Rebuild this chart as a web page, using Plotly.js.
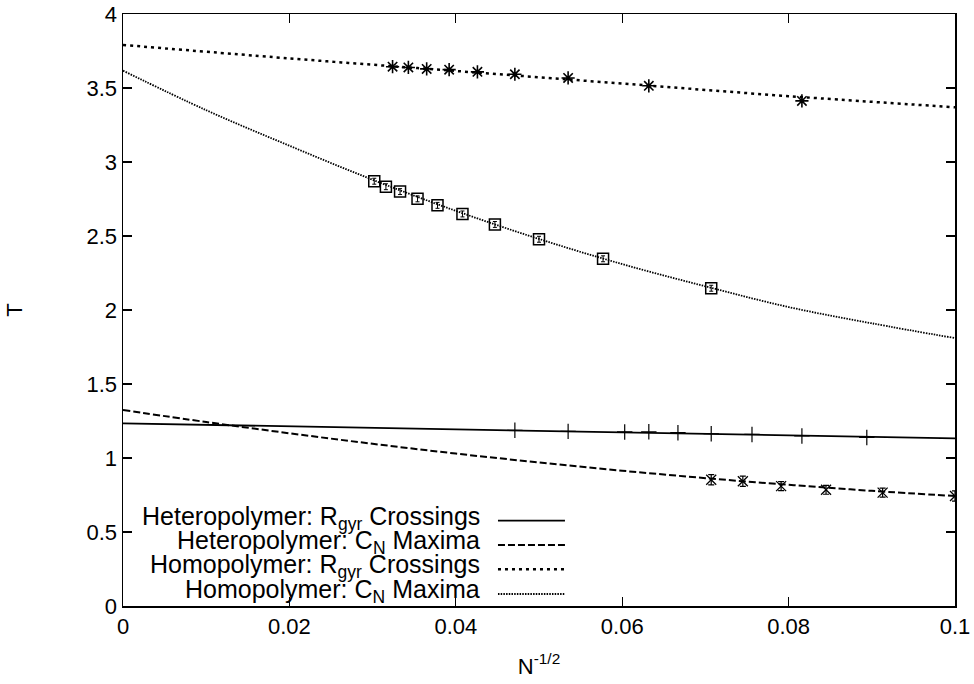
<!DOCTYPE html>
<html>
<head>
<meta charset="utf-8">
<script src="https://cdn.plot.ly/plotly-3.0.1.min.js"></script>
<style>
html,body{margin:0;padding:0;background:#fff;}
#chart{width:974px;height:684px;}
</style>
</head>
<body>
<div id="chart"></div>
<script>
// ---- data ----
// Heteropolymer: Rgyr crossings (points, '+')
var hetRgX = [0.0471, 0.0535, 0.0603, 0.0632, 0.0667, 0.0707, 0.0756, 0.0816, 0.0894];
var hetRgT = [1.187, 1.180, 1.176, 1.177, 1.171, 1.164, 1.159, 1.149, 1.139];
// fit line
var hetRgFitX = [0, 0.05, 0.1];
var hetRgFitT = [1.234, 1.184, 1.133];

// Heteropolymer: CN maxima (points, 'x' with error bars)
var hetCnX = [0.0707, 0.0745, 0.0791, 0.0845, 0.0913, 0.1];
var hetCnT = [0.853, 0.843, 0.810, 0.785, 0.766, 0.743];
var hetCnErr = [0.035, 0.035, 0.03, 0.03, 0.03, 0.035];
var hetCnFitX = [0, 0.01, 0.02, 0.03, 0.04, 0.05, 0.06, 0.07, 0.08, 0.09, 0.1];
var hetCnFitT = [1.324, 1.243, 1.167, 1.096, 1.030, 0.970, 0.914, 0.864, 0.819, 0.778, 0.743];

// Homopolymer: Rgyr crossings (points, '*')
var homRgX = [0.0324, 0.0343, 0.0365, 0.0392, 0.0426, 0.0471, 0.0535, 0.0632, 0.0816];
var homRgT = [3.644, 3.639, 3.629, 3.624, 3.609, 3.593, 3.568, 3.515, 3.413];
var homRgFitX = [0, 0.02, 0.04, 0.06, 0.08, 0.1];
var homRgFitT = [3.791, 3.700, 3.615, 3.530, 3.445, 3.370];

// Homopolymer: CN maxima (points, squares)
var homCnX = [0.0302, 0.0316, 0.0333, 0.0354, 0.0378, 0.0408, 0.0447, 0.0500, 0.0577, 0.0707];
var homCnT = [2.870, 2.833, 2.800, 2.751, 2.707, 2.649, 2.578, 2.478, 2.346, 2.147];
var homCnErr = [0.02, 0.02, 0.02, 0.02, 0.02, 0.02, 0.02, 0.02, 0.02, 0.02];
var homCnFitX = [0, 0.01, 0.02, 0.03, 0.04, 0.05, 0.06, 0.07, 0.08, 0.09, 0.1];
var homCnFitT = [3.617, 3.350, 3.110, 2.880, 2.670, 2.480, 2.310, 2.160, 2.020, 1.910, 1.810];

// legend
var legendLabels = [
  "Heteropolymer: R<sub>gyr</sub> Crossings",
  "Heteropolymer: C<sub>N</sub> Maxima",
  "Homopolymer: R<sub>gyr</sub> Crossings",
  "Homopolymer: C<sub>N</sub> Maxima"
];
var xTicks = [0, 0.02, 0.04, 0.06, 0.08, 0.1];
var xTickText = ["0", "0.02", "0.04", "0.06", "0.08", "0.1"];
var yTicks = [0, 0.5, 1, 1.5, 2, 2.5, 3, 3.5, 4];
var yTickText = ["0", "0.5", "1", "1.5", "2", "2.5", "3", "3.5", "4"];

// ---- styles ----
var FONT = "Liberation Sans, Arial, Helvetica, sans-serif";
var styles = [
  {dash: "solid", width: 1.8},
  {dash: "7px,3px", width: 2},
  {dash: "3px,4px", width: 2.5},
  {dash: "1.5px,1.2px", width: 1.8}
];

var traces = [
  {x: hetRgFitX, y: hetRgFitT, mode: "lines", line: {color: "#000", width: styles[0].width, dash: styles[0].dash}, showlegend: false, hoverinfo: "skip"},
  {x: hetRgX, y: hetRgT, mode: "markers", marker: {symbol: "cross-thin-open", size: 11, color: "#000", line: {color: "#000", width: 1.2}}, showlegend: false},
  {x: hetCnFitX, y: hetCnFitT, mode: "lines", line: {shape: "spline", color: "#000", width: styles[1].width, dash: styles[1].dash}, showlegend: false, hoverinfo: "skip"},
  {x: hetCnX, y: hetCnT, mode: "markers", marker: {symbol: "x-thin-open", size: 10, color: "#000", line: {color: "#000", width: 1.3}},
   error_y: {type: "data", array: hetCnErr, visible: true, color: "#000", thickness: 1.2, width: 3}, showlegend: false},
  {x: homRgFitX, y: homRgFitT, mode: "lines", line: {shape: "spline", color: "#000", width: styles[2].width, dash: styles[2].dash}, showlegend: false, hoverinfo: "skip"},
  {x: homRgX, y: homRgT, mode: "markers", marker: {symbol: "asterisk-open", size: 11, color: "#000", line: {color: "#000", width: 1.6}}, showlegend: false},
  {x: homCnFitX, y: homCnFitT, mode: "lines", line: {shape: "spline", color: "#000", width: styles[3].width, dash: styles[3].dash}, showlegend: false, hoverinfo: "skip"},
  {x: homCnX, y: homCnT, mode: "markers", marker: {symbol: "square-open", size: 11, color: "#000", line: {color: "#000", width: 1.5}},
   error_y: {type: "data", array: homCnErr, visible: true, color: "#000", thickness: 1, width: 2}, showlegend: false}
];

// custom gnuplot-like legend: right-aligned text, line sample to the right
var legY = [0.1441, 0.1030, 0.0620, 0.0203];
var annotations = [];
var shapes = [];
for (var i = 0; i < legendLabels.length; i++) {
  annotations.push({
    xref: "paper", yref: "paper", x: 0.4315, y: legY[i],
    xanchor: "right", yanchor: "middle", showarrow: false,
    text: legendLabels[i], font: {family: FONT, size: 25, color: "#000"}, yshift: 3
  });
  shapes.push({
    type: "line", xref: "paper", yref: "paper",
    x0: 0.4507, x1: 0.5312, y0: legY[i], y1: legY[i],
    line: {color: "#000", width: styles[i].width, dash: styles[i].dash}
  });
}

var axisCommon = {
  showline: true, linecolor: "#000", linewidth: 1.5, mirror: "allticks",
  ticks: "inside", ticklen: 9, tickwidth: 1.2, tickcolor: "#000",
  showgrid: false, zeroline: false,
  tickfont: {family: FONT, size: 22, color: "#000"}
};

var layout = {
  width: 974, height: 684,
  margin: {l: 123, r: 19, t: 14, b: 78},
  paper_bgcolor: "#fff", plot_bgcolor: "#fff",
  showlegend: false,
  font: {family: FONT, color: "#000"},
  xaxis: Object.assign({}, axisCommon, {
    range: [0, 0.1], tickvals: xTicks, ticktext: xTickText,
    title: {text: "N<sup>-1/2</sup>", font: {family: FONT, size: 22, color: "#000"}, standoff: 20}
  }),
  yaxis: Object.assign({}, axisCommon, {
    range: [0, 4], tickvals: yTicks, ticktext: yTickText,
    title: {text: "T", font: {family: FONT, size: 22, color: "#000"}, standoff: 58}
  }),
  annotations: annotations,
  shapes: shapes
};

Plotly.newPlot("chart", traces, layout, {displayModeBar: false, staticPlot: true});
</script>
</body>
</html>
